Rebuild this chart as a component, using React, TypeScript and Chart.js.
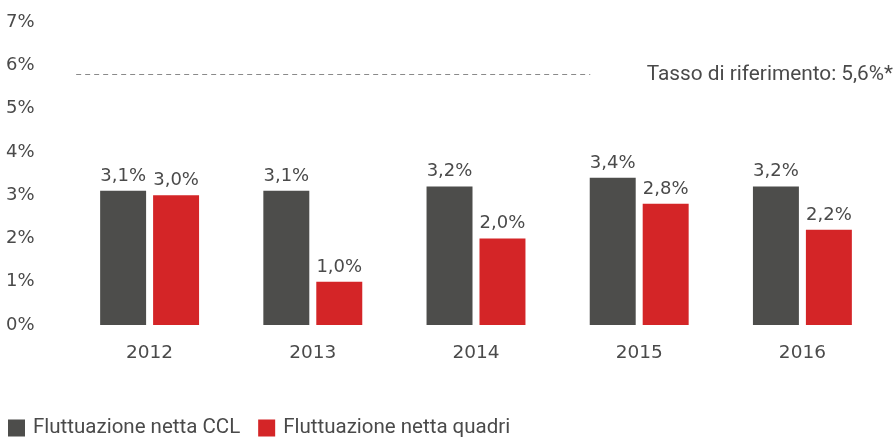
import React, { useEffect, useRef } from "react";
import { Chart, registerables } from "chart.js";

Chart.register(...registerables);

const categories = ["2012", "2013", "2014", "2015", "2016"];
const seriesCCL = [3.1, 3.1, 3.2, 3.4, 3.2];
const seriesQuadri = [3.0, 1.0, 2.0, 2.8, 2.2];
const seriesNames = ["Fluttuazione netta CCL", "Fluttuazione netta quadri"];
const yTicks = [0, 1, 2, 3, 4, 5, 6, 7];
const referenceLineValue = 5.8;
const referenceLineFrom = -0.45;
const referenceLineTo = 2.7;
const referenceLabel = "Tasso di riferimento: 5,6%*";

const GREY = "#4d4d4b";
const RED = "#d42527";
const TEXT = "#4a4a4a";
const FONT = "'DejaVu Sans', sans-serif";
const FONT2 = "Roboto, sans-serif";

const fmt = (v: number) => v.toFixed(1).replace(".", ",") + "%";

const overlayPlugin = {
  id: "overlay",
  afterDatasetsDraw(chart: any) {
    const ctx = chart.ctx;
    const xs = chart.scales.x;
    const ys = chart.scales.y;
    ctx.save();
    // value labels
    ctx.font = `18px ${FONT}`;
    ctx.fillStyle = TEXT;
    ctx.textAlign = "center";
    ctx.textBaseline = "alphabetic";
    chart.data.datasets.forEach((ds: any, di: number) => {
      const meta = chart.getDatasetMeta(di);
      meta.data.forEach((el: any, i: number) => {
        ctx.fillText(fmt(ds.data[i]), el.x, el.y - 10);
      });
    });
    // reference line
    const y = Math.round(ys.getPixelForValue(referenceLineValue)) + 0.5;
    const x1 = xs.getPixelForValue(referenceLineFrom);
    const x2 = xs.getPixelForValue(referenceLineTo);
    ctx.strokeStyle = "#8a8a8a";
    ctx.lineWidth = 1;
    ctx.setLineDash([5, 4]);
    ctx.beginPath();
    ctx.moveTo(x1, y);
    ctx.lineTo(x2, y);
    ctx.stroke();
    ctx.setLineDash([]);
    ctx.font = `20.8px ${FONT2}`;
    ctx.textAlign = "right";
    ctx.textBaseline = "middle";
    ctx.fillStyle = TEXT;
    ctx.fillText(referenceLabel, chart.width - 1, y);
    // legend
    ctx.font = `20.5px ${FONT2}`;
    ctx.textAlign = "left";
    ctx.textBaseline = "middle";
    let lx = 8;
    const ly = chart.height - 9;
    chart.data.datasets.forEach((ds: any) => {
      ctx.fillStyle = ds.backgroundColor;
      ctx.fillRect(lx, ly - 8.5, 17, 17);
      ctx.fillStyle = TEXT;
      ctx.fillText(ds.label, lx + 25, ly);
      lx += 25 + ctx.measureText(ds.label).width + 18;
    });
    ctx.restore();
  },
};

export default function App() {
  const ref = useRef<HTMLCanvasElement | null>(null);
  useEffect(() => {
    document.body.style.margin = "0";
    const chart = new Chart(ref.current as HTMLCanvasElement, {
      type: "bar",
      data: {
        labels: categories,
        datasets: [
          {
            label: seriesNames[0],
            data: seriesCCL,
            backgroundColor: GREY,
            categoryPercentage: 0.649,
            barPercentage: 0.868,
          },
          {
            label: seriesNames[1],
            data: seriesQuadri,
            backgroundColor: RED,
            categoryPercentage: 0.649,
            barPercentage: 0.868,
          },
        ],
      },
      options: {
        animation: false,
        responsive: false,
        layout: { padding: { left: 6, right: 10, top: 22, bottom: 0 } },
        plugins: {
          legend: { display: false },
          tooltip: { enabled: false },
        },
        scales: {
          x: {
            grid: { display: false, drawTicks: false },
            border: { display: false },
            ticks: {
              color: TEXT,
              font: { family: FONT, size: 18.5 },
              padding: 17,
            },
            afterFit: (scale: any) => {
              scale.height = 112;
            },
          },
          y: {
            min: 0,
            max: 7,
            grid: { display: false, drawTicks: false },
            border: { display: false },
            afterBuildTicks: (scale: any) => {
              scale.ticks = yTicks.map((v) => ({ value: v }));
            },
            afterFit: (scale: any) => {
              scale.width = 62;
            },
            ticks: {
              color: TEXT,
              font: { family: FONT, size: 18 },
              padding: 0,
              crossAlign: "far",
              callback: (v: any) => v + "%",
            },
          },
        },
      },
      plugins: [overlayPlugin],
    } as any);
    return () => chart.destroy();
  }, []);
  return <canvas ref={ref} width={894} height={437} style={{ display: "block" }} />;
}
